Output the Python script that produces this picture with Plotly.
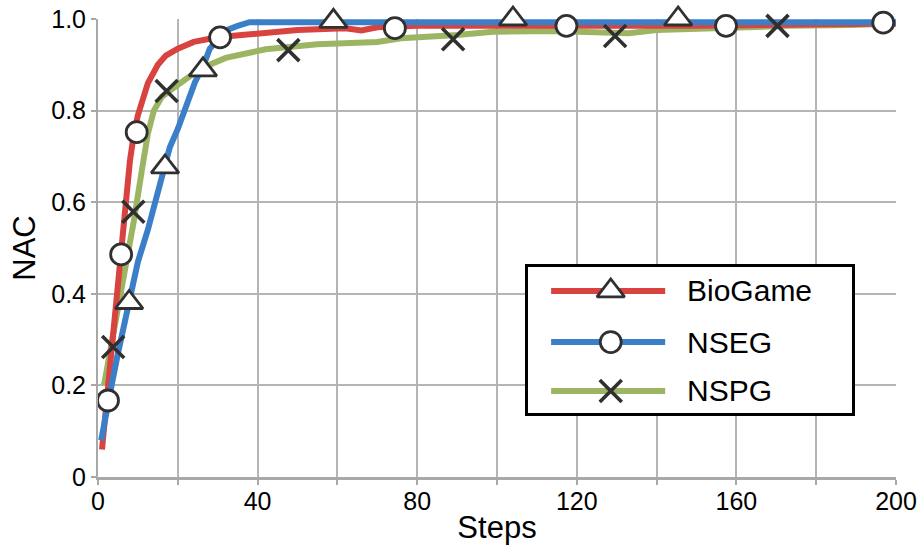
import plotly.graph_objects as go

# ---- series data -------------------------------------------------------
steps_biogame = [1, 2, 3, 4, 5, 6, 7, 8, 9, 10, 12.5, 15, 17, 20, 24, 30, 36,
                 50, 62, 66, 70, 80, 100, 150, 200]
nac_biogame = [0.06, 0.15, 0.25, 0.35, 0.45, 0.53, 0.61, 0.69, 0.75, 0.79, 0.86,
               0.90, 0.92, 0.935, 0.95, 0.96, 0.965, 0.976, 0.98, 0.975, 0.982,
               0.985, 0.985, 0.985, 0.99]

steps_nseg = [0.8, 2, 3.4, 5, 6.3, 8, 10, 12.5, 15, 18, 20, 22, 24.3, 26.5, 28,
              30, 32, 35, 38, 200]
nac_nseg = [0.08, 0.14, 0.20, 0.27, 0.32, 0.40, 0.47, 0.54, 0.62, 0.72, 0.76,
            0.81, 0.862, 0.90, 0.935, 0.955, 0.975, 0.985, 0.993, 0.993]

steps_nspg = [1.5, 3, 5, 7, 9, 11, 12.5, 14, 16, 19, 23, 28, 32, 42, 55, 70, 76,
              90, 99, 114, 133, 140, 158, 173, 189, 195, 200]
nac_nspg = [0.20, 0.27, 0.37, 0.46, 0.56, 0.67, 0.75, 0.80, 0.83, 0.85, 0.875,
            0.90, 0.915, 0.934, 0.945, 0.95, 0.958, 0.965, 0.972, 0.974, 0.969,
            0.976, 0.982, 0.985, 0.987, 0.99, 0.99]

# sample markers
tri_steps = [7.8, 16.8, 26.3, 59, 104, 145.4, 183.6]
tri_nac = [0.381, 0.677, 0.889, 0.995, 1.0, 1.0, 1.004]
circ_steps = [2.5, 5.8, 9.7, 30.6, 74.4, 117.4, 157.4, 196.8]
circ_nac = [0.167, 0.486, 0.753, 0.96, 0.98, 0.985, 0.985, 0.992]
cross_steps = [3.8, 8.85, 17.2, 47.7, 89, 129.6, 170.3]
cross_nac = [0.284, 0.579, 0.843, 0.932, 0.956, 0.963, 0.985]

series_names = ["BioGame", "NSEG", "NSPG"]
series_colors = ["#d8433f", "#3b7fc9", "#9bb563"]

x_tickvals = [0, 20, 40, 60, 80, 100, 120, 140, 160, 180, 200]
x_ticktext = ["0", "", "40", "", "80", "", "120", "", "160", "", "200"]
y_tickvals = [0, 0.2, 0.4, 0.6, 0.8, 1.0]
y_ticktext = ["0", "0.2", "0.4", "0.6", "0.8", "1.0"]

FONT = "Liberation Sans Narrow, Liberation Sans, Arial, sans-serif"
MARK_EDGE = "#303030"
GRID = "#b5b5b5"

fig = go.Figure()

for xs, ys, color in [(steps_nspg, nac_nspg, series_colors[2]),
                      (steps_biogame, nac_biogame, series_colors[0]),
                      (steps_nseg, nac_nseg, series_colors[1])]:
    fig.add_trace(go.Scatter(x=xs, y=ys, mode="lines",
                             line=dict(color=color, width=6),
                             showlegend=False, hoverinfo="skip"))

marker_sets = [
    (tri_steps, tri_nac, "triangle-up", 24, 2.8),
    (circ_steps, circ_nac, "circle", 21, 2.8),
    (cross_steps, cross_nac, "x-thin", 22, 3.6),
]
for xs, ys, sym, size, lw in marker_sets:
    fig.add_trace(go.Scatter(
        x=xs, y=ys, mode="markers", cliponaxis=False, showlegend=False,
        marker=dict(symbol=sym, size=size, color="white",
                    line=dict(color=MARK_EDGE, width=lw)),
        hoverinfo="skip"))

# ---- boxed key drawn on its own inset axes --------------------------------
key_rows = [0.836, 0.486, 0.151]
for name, color, row, (_, _, sym, size, lw) in zip(series_names, series_colors,
                                                   key_rows, marker_sets):
    fig.add_trace(go.Scatter(x=[0.071, 0.423], y=[row, row], mode="lines",
                             line=dict(color=color, width=6),
                             xaxis="x2", yaxis="y2", showlegend=False,
                             hoverinfo="skip"))
    fig.add_trace(go.Scatter(x=[0.255], y=[row], mode="markers",
                             marker=dict(symbol=sym, size=size, color="white",
                                         line=dict(color=MARK_EDGE, width=lw)),
                             xaxis="x2", yaxis="y2", showlegend=False,
                             cliponaxis=False, hoverinfo="skip"))
    fig.add_annotation(x=0.485, y=row, xref="x2", yref="y2", text=name,
                       showarrow=False, xanchor="left", yanchor="middle",
                       font=dict(family=FONT, size=30, color="black"))

fig.add_shape(type="rect", xref="x2", yref="y2", x0=0, x1=1, y0=0, y1=1,
              fillcolor="white", line=dict(width=0), layer="between")

fig.update_layout(
    width=917, height=553,
    margin=dict(l=98, r=21, t=19, b=76),
    plot_bgcolor="white", paper_bgcolor="white",
    showlegend=False,
    font=dict(family=FONT, color="black"),
    xaxis=dict(range=[0, 200], tickvals=x_tickvals, ticktext=x_ticktext,
               automargin=False, ticklabeloverflow="allow",
               showgrid=True, gridcolor=GRID, gridwidth=2, zeroline=False,
               showline=True, linecolor="#a8a8a8", linewidth=3,
               ticks="outside", ticklen=5, tickwidth=2, tickcolor="#a8a8a8",
               ticklabelstandoff=-5,
               tickfont=dict(size=25),
               title=dict(text="Steps", font=dict(size=31), standoff=3)),
    yaxis=dict(range=[0, 1.0], tickvals=y_tickvals, ticktext=y_ticktext,
               automargin=False, ticklabeloverflow="allow",
               showgrid=True, gridcolor=GRID, gridwidth=2, zeroline=False,
               showline=True, linecolor="#a8a8a8", linewidth=2,
               ticks="outside", ticklen=5, tickwidth=2, tickcolor="#a8a8a8",
               tickfont=dict(size=25),
               title=dict(text="NAC", font=dict(size=31), standoff=6)),
    xaxis2=dict(domain=[0.539, 0.945], range=[0, 1], anchor="y2",
                automargin=False,
                showgrid=False, zeroline=False, showticklabels=False,
                showline=True, mirror=True, linecolor="black", linewidth=2.5),
    yaxis2=dict(domain=[0.1397, 0.4585], range=[0, 1], anchor="x2",
                automargin=False,
                showgrid=False, zeroline=False, showticklabels=False,
                showline=True, mirror=True, linecolor="black", linewidth=2.5),
)

fig.write_html("out.html")
